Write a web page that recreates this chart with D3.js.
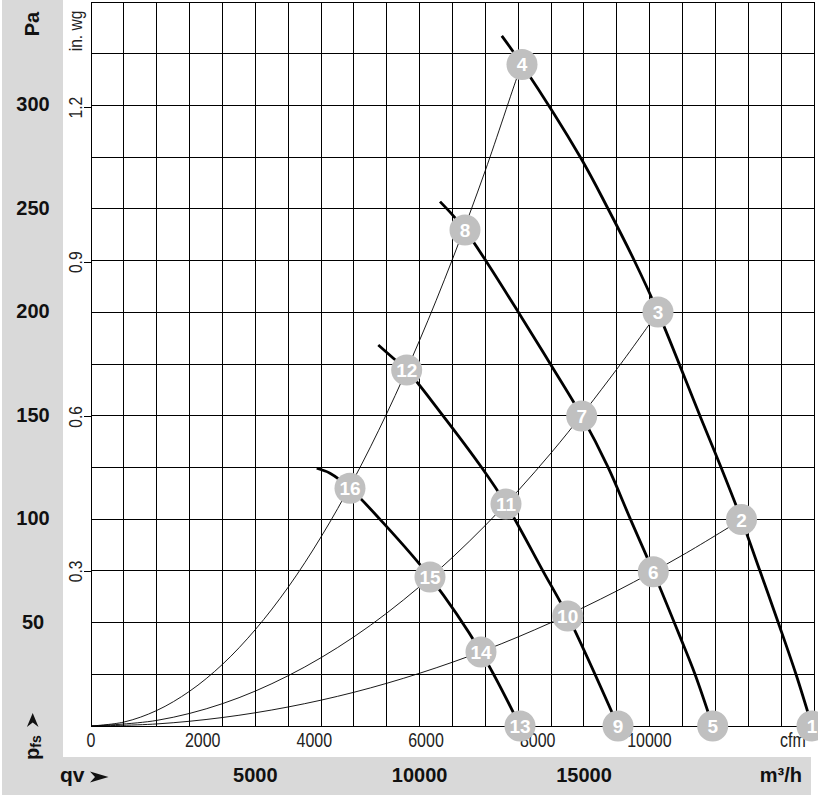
<!DOCTYPE html>
<html><head><meta charset="utf-8">
<script src="https://cdn.jsdelivr.net/npm/d3@7"></script>
<style>html,body{margin:0;padding:0;background:#fff;} svg{display:block;}</style>
</head><body>
<svg id="chart" width="818" height="798"></svg>
<script>
// ---------- data ----------
const paTicks = [50, 100, 150, 200, 250, 300];
const inwgTicks = [0.3, 0.6, 0.9, 1.2];
const cfmTicks = [0, 2000, 4000, 6000, 8000, 10000];
const m3hTicks = [5000, 10000, 15000];

// fan curves: [flow m³/h, static pressure Pa]
const fanCurveA = [[12500,333.6],[13115,319.8],[14900,274.7],[15741,249.8],[16538,224.8],[17253,200.1],[18531,149.9],[19170,125.1],[19794,99.8],[20357,74.9],[20914,49.9],[21452,25.0],[21939,0]];
const fanCurveB = [[10620,253.5],[11006,247.0],[11380,239.8],[12019,224.8],[13014,199.8],[13982,174.9],[14931,149.9],[15732,125.1],[16416,99.9],[17110,74.6],[17923,43.2],[18379,25.0],[18917,0]];
const fanCurveC = [[8742,184.2],[9199,177.8],[9606,172.1],[10620,151.9],[11882,125.1],[12628,107.3],[13754,74.9],[14505,53.2],[16036,0]];
const fanCurveD = [[6868,124.6],[7272,122.2],[7881,114.9],[8794,99.9],[10315,72.0],[11867,35.8],[13054,0]];

// system (resistance) curves
const systemCurve1 = [[0,0],[1000,1.9],[2000,7.5],[3000,16.8],[4000,29.8],[5000,46.6],[6000,67.1],[7000,91.4],[8000,119.4],[9000,151.1],[10000,186.5],[11000,225.7],[12000,268.6],[13000,315.2],[13115,319.8]];
const systemCurve2 = [[0,0],[2000,2.7],[4000,10.8],[6000,24.3],[8000,43.1],[10000,67.4],[12000,97.0],[14000,132.0],[16000,172.5],[17253,200.1]];
const systemCurve3 = [[0,0],[2000,1.0],[4000,4.1],[6000,9.2],[8000,16.3],[10000,25.5],[12000,36.7],[14000,50.0],[16000,65.3],[18000,82.6],[19794,99.8]];

// numbered operating points
const pointIds      = [1, 2, 3, 4, 5, 6, 7, 8, 9, 10, 11, 12, 13, 14, 15, 16];
const pointFlow     = [21939, 19794, 17253, 13115, 18917, 17110, 14931, 11380, 16036, 14505, 12628, 9606, 13054, 11867, 10315, 7881];
const pointPressure = [0, 99.8, 200.1, 319.8, 0, 74.6, 149.9, 239.8, 0, 53.2, 107.3, 172.1, 0, 35.8, 72.0, 114.9];

const PA_PER_INWG = 249.089;
const M3H_PER_CFM = 1.699;

// ---------- drawing ----------
const svg = d3.select("#chart");
const FONT = "'Liberation Sans', Arial, sans-serif";
const x = d3.scaleLinear().domain([0, 22000]).range([91, 814]);
const y = d3.scaleLinear().domain([0, 350]).range([726, 2]);

// gray frame
svg.append("rect").attr("x", 2).attr("y", 0).attr("width", 61).attr("height", 795).attr("fill", "#d9d9d9");
svg.append("rect").attr("x", 2).attr("y", 757).attr("width", 809).attr("height", 38).attr("fill", "#d9d9d9");

// grid: every 1000 m³/h and every 25 Pa
const grid = svg.append("g").attr("stroke", "#000").attr("stroke-width", 1).attr("shape-rendering", "crispEdges");
grid.selectAll("line.v").data(d3.range(0, 22001, 1000)).join("line")
  .attr("x1", d => x(d)).attr("x2", d => x(d)).attr("y1", y(350)).attr("y2", y(0));
grid.selectAll("line.h").data(d3.range(0, 351, 25)).join("line")
  .attr("y1", d => y(d)).attr("y2", d => y(d)).attr("x1", x(0)).attr("x2", x(22000));

// in. wg ticks
grid.selectAll("line.t").data(inwgTicks).join("line")
  .attr("x1", 84).attr("x2", 91).attr("y1", d => y(d * PA_PER_INWG)).attr("y2", d => y(d * PA_PER_INWG));

// curves
const line = d3.line().x(d => x(d[0])).y(d => y(d[1])).curve(d3.curveCatmullRom.alpha(0.5));
[systemCurve1, systemCurve2, systemCurve3].forEach(c => {
  svg.append("path").attr("d", line(c)).attr("fill", "none").attr("stroke", "#000").attr("stroke-width", 0.9);
});
[fanCurveA, fanCurveB, fanCurveC, fanCurveD].forEach(c => {
  svg.append("path").attr("d", line(c)).attr("fill", "none").attr("stroke", "#000").attr("stroke-width", 2.8)
    .attr("stroke-linejoin", "round");
});

// left labels (Pa)
svg.selectAll("text.pa").data(paTicks).join("text")
  .attr("x", 33).attr("y", d => y(d) + 6).attr("text-anchor", "middle")
  .attr("font-family", FONT).attr("font-weight", "bold").attr("font-size", 20).attr("fill", "#111")
  .text(d => d);
svg.append("text").attr("transform", "translate(38.5,24) rotate(-90)").attr("text-anchor", "middle")
  .attr("font-family", FONT).attr("font-weight", "bold").attr("font-size", 20).attr("fill", "#111").text("Pa");

// in. wg labels (narrow)
svg.selectAll("text.iw").data(inwgTicks).join("text")
  .attr("transform", d => `translate(81.5,${y(d * PA_PER_INWG)}) rotate(-90) scale(0.82,1)`)
  .attr("text-anchor", "middle").attr("font-family", FONT).attr("font-size", 19).attr("fill", "#222")
  .text(d => d.toFixed(1));
svg.append("text").attr("transform", "translate(81.5,31) rotate(-90) scale(0.82,1)")
  .attr("text-anchor", "middle").attr("font-family", FONT).attr("font-size", 19).attr("fill", "#222").text("in. wg");

// pfs label + arrow
const pfs = svg.append("text").attr("transform", "translate(38.5,760) rotate(-90)")
  .attr("font-family", FONT).attr("font-weight", "bold").attr("fill", "#111");
pfs.append("tspan").attr("font-size", 20).text("p");
pfs.append("tspan").attr("font-size", 14).attr("dy", 2).text("fs");
svg.append("path").attr("d", "M32.7,713 L38.5,727 L32.7,722.5 L26.9,727 Z").attr("fill", "#111");

// cfm labels (narrow)
svg.selectAll("text.cfm").data(cfmTicks).join("text")
  .attr("transform", d => `translate(${x(d * M3H_PER_CFM)},747) scale(0.82,1)`)
  .attr("text-anchor", "middle").attr("font-family", FONT).attr("font-size", 19.5).attr("fill", "#222")
  .text(d => d);
svg.append("text").attr("transform", "translate(793,747) scale(0.82,1)")
  .attr("text-anchor", "middle").attr("font-family", FONT).attr("font-size", 19.5).attr("fill", "#222").text("cfm");

// bottom labels (m³/h)
svg.selectAll("text.m3").data(m3hTicks).join("text")
  .attr("x", d => x(d)).attr("y", 782).attr("text-anchor", "middle")
  .attr("font-family", FONT).attr("font-weight", "bold").attr("font-size", 20).attr("fill", "#111")
  .text(d => d);
svg.append("text").attr("x", 802).attr("y", 782).attr("text-anchor", "end")
  .attr("font-family", FONT).attr("font-weight", "bold").attr("font-size", 20).attr("fill", "#111").text("m³/h");
svg.append("text").attr("x", 60).attr("y", 782)
  .attr("font-family", FONT).attr("font-weight", "bold").attr("font-size", 21).attr("fill", "#111").text("qv");
svg.append("path").attr("d", "M108.5,777 L90,771.5 L95,777 L90,782.5 Z").attr("fill", "#111");

// numbered points
const pts = svg.selectAll("g.pt").data(pointIds).join("g")
  .attr("transform", (d, i) => `translate(${x(pointFlow[i])},${y(pointPressure[i])})`);
pts.append("circle").attr("r", 15.5).attr("fill", "#c0c0c0");
pts.append("text").attr("y", 7).attr("text-anchor", "middle")
  .attr("font-family", FONT).attr("font-weight", "bold").attr("font-size", 19).attr("fill", "#fff")
  .text(d => d);
</script>
</body></html>
